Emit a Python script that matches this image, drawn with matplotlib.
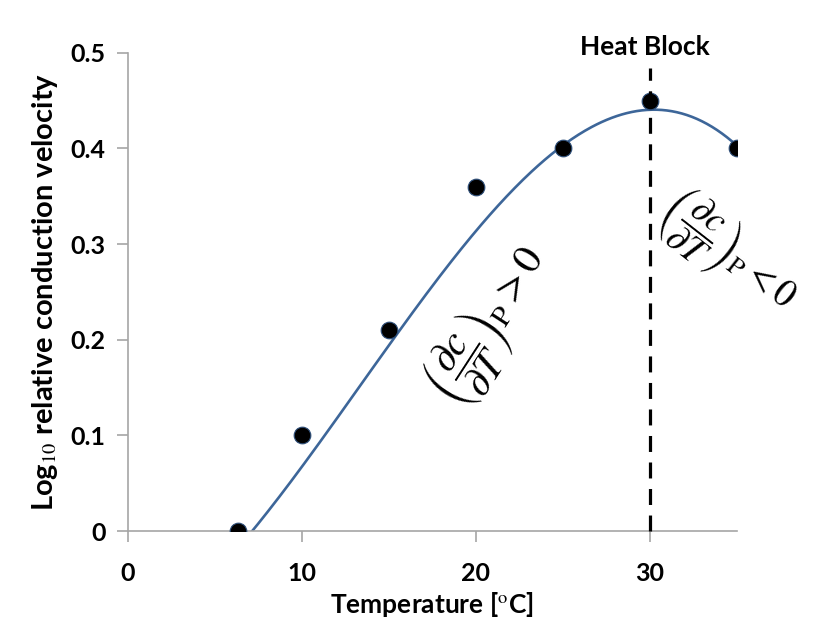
"""Log relative conduction velocity vs temperature, with heat block marker."""

import matplotlib
matplotlib.use("Agg")
import matplotlib.pyplot as plt
import numpy as np

plt.rcParams["font.family"] = ["Lato", "DejaVu Sans"]
plt.rcParams["mathtext.fontset"] = "stix"

temperature = [6.3, 10, 15, 20, 25, 30, 35]
log_velocity = [0.0, 0.10, 0.21, 0.36, 0.40, 0.45, 0.40]
# trendline
trend_temp = [7.2, 10, 15, 20, 25, 30, 35]
trend_value = [0.0, 0.067, 0.202, 0.306, 0.400, 0.448, 0.400]
x_ticks = [0, 10, 20, 30]
y_ticks = [0, 0.1, 0.2, 0.3, 0.4, 0.5]
y_tick_labels = ["0", "0.1", "0.2", "0.3", "0.4", "0.5"]
heat_block_temp = 30

GRAY = "#a6a6a6"

fig = plt.figure(figsize=(8.14, 6.3), dpi=100)
ax = fig.add_axes([0.1572, 0.1571, 0.7482, 0.7592])

coef = np.polyfit(trend_temp, trend_value, 3)
xs = np.linspace(min(temperature), max(temperature), 300)
ax.plot(xs, np.polyval(coef, xs), color="#3d6699", lw=1.9, zorder=2)

ax.plot(temperature, log_velocity, "o", ms=12, color="black",
        mec="#2e4f7a", mew=0.8, zorder=3)

ax.plot([heat_block_temp, heat_block_temp], [0, 0.484], color="black",
        lw=2.3, dashes=(5, 3.3), zorder=4, clip_on=False)
ax.text(29.7, 0.506, "Heat Block", ha="center", va="center",
        fontsize=19, fontweight="bold")

ax.text(20.8, 0.215, r"$\left(\dfrac{\partial c}{\partial T}\right)_{\mathrm{P}} > 0$",
        rotation=57, ha="center", va="center", fontsize=30,
        rotation_mode="anchor")
ax.text(34.45, 0.29, r"$\left(\dfrac{\partial c}{\partial T}\right)_{\mathrm{P}} < 0$",
        rotation=-38, ha="center", va="center", fontsize=27,
        rotation_mode="anchor", clip_on=False)

ax.set_xlim(0, 35)
ax.set_ylim(0, 0.5)
ax.set_xticks(x_ticks)
ax.set_yticks(y_ticks)
ax.set_yticklabels(y_tick_labels)
for s in ["top", "right"]:
    ax.spines[s].set_visible(False)
for s in ["left", "bottom"]:
    ax.spines[s].set_color(GRAY)
    ax.spines[s].set_linewidth(1.2)
ax.tick_params(axis="both", colors=GRAY, length=8, width=1.2,
               labelcolor="black", labelsize=18)
ax.tick_params(axis="x", pad=14)
ax.tick_params(axis="y", pad=8)
for lbl in ax.get_xticklabels() + ax.get_yticklabels():
    lbl.set_fontweight("bold")

ax.set_xlabel(r"Temperature [$^{\mathrm{o}}$C]", fontsize=19,
              fontweight="bold", labelpad=4)
ax.set_ylabel(r"Log$_{10}$ relative conduction velocity", fontsize=21,
              fontweight="bold", labelpad=8)

fig.savefig("out.png", dpi=100)
